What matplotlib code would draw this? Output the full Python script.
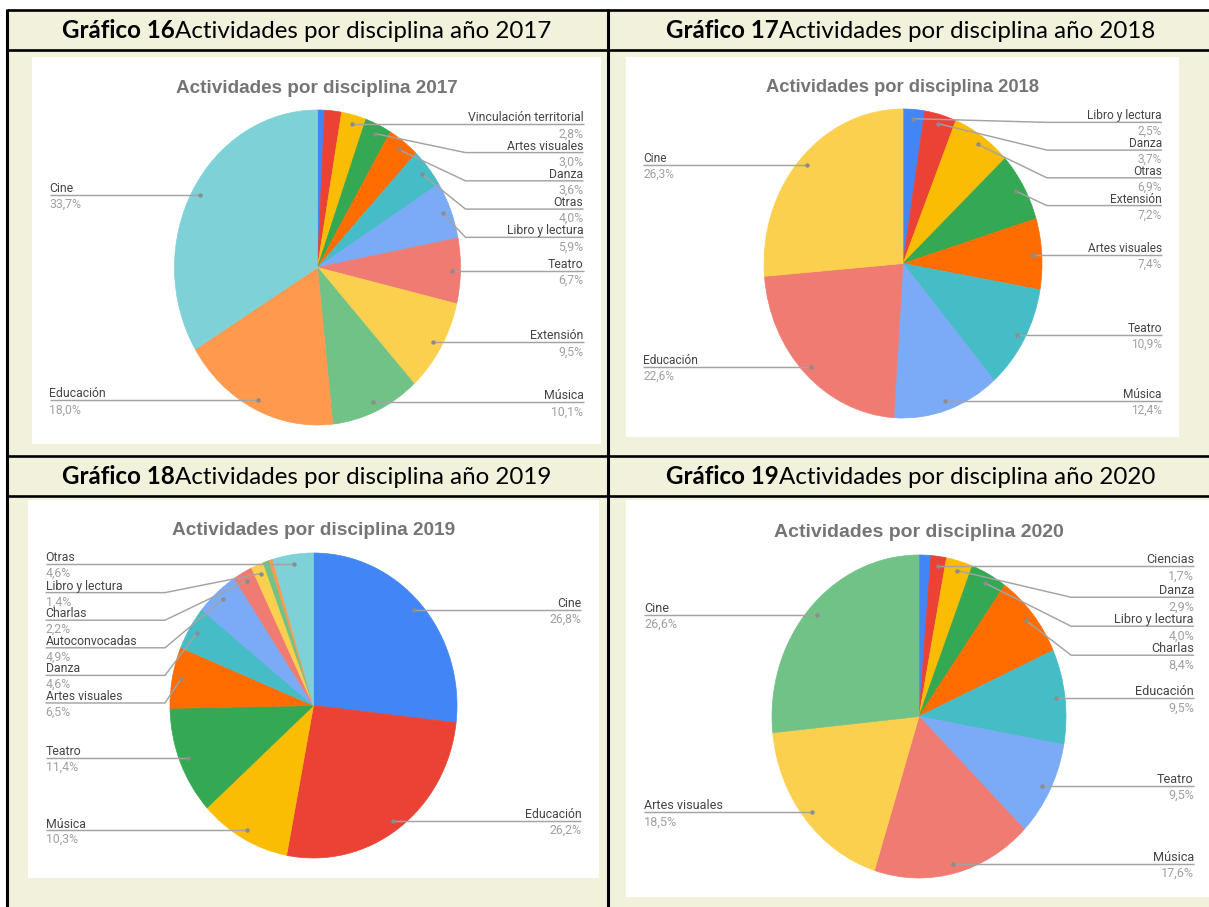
import matplotlib
matplotlib.use('Agg')
import matplotlib.pyplot as plt
import numpy as np

# ---------------- data ----------------
years = [2017, 2018, 2019, 2020]
figure_numbers = [16, 17, 18, 19]

labels_2017 = [None, None, 'Vinculación territorial', 'Artes visuales', 'Danza', 'Otras',
               'Libro y lectura', 'Teatro', 'Extensión', 'Música', 'Educación', 'Cine']
values_2017 = [0.8, 1.9, 2.8, 3.0, 3.6, 4.0, 5.9, 6.7, 9.5, 10.1, 18.0, 33.7]

labels_2018 = ['Libro y lectura', 'Danza', 'Otras', 'Extensión', 'Artes visuales',
               'Teatro', 'Música', 'Educación', 'Cine']
values_2018 = [2.5, 3.7, 6.9, 7.2, 7.4, 10.9, 12.4, 22.6, 26.3]

labels_2019 = ['Cine', 'Educación', 'Música', 'Teatro', 'Artes visuales', 'Danza',
               'Autoconvocadas', 'Charlas', 'Libro y lectura', None, None, 'Otras']
values_2019 = [26.8, 26.2, 10.3, 11.4, 6.5, 4.6, 4.9, 2.2, 1.4, 0.7, 0.4, 4.6]

labels_2020 = [None, 'Ciencias', 'Danza', 'Libro y lectura', 'Charlas', 'Educación',
               'Teatro', 'Música', 'Artes visuales', 'Cine']
values_2020 = [1.3, 1.7, 2.9, 4.0, 8.4, 9.5, 9.5, 17.6, 18.5, 26.6]

all_labels = [labels_2017, labels_2018, labels_2019, labels_2020]
all_values = [values_2017, values_2018, values_2019, values_2020]

# ---------------- styles ----------------
PALETTE = ['#4285F4', '#EA4335', '#FBBC04', '#34A853', '#FF6D01', '#46BDC6',
           '#7BAAF7', '#F07B72', '#FCD04F', '#71C287', '#FF994D', '#7ED1D7']
CREAM = '#F2F1DC'
LINE_GRAY = '#A3A3A3'
DOT_GRAY = '#8C8C8C'
NAME_COL = '#444444'
PCT_COL = '#A0A0A0'
TITLE_COL = '#757575'
LABEL_FONT = ['Roboto', 'DejaVu Sans']
TITLE_FONT = ['Liberation Sans', 'DejaVu Sans']
HEAD_FONT = ['Lato', 'DejaVu Sans']

W, H = 1209, 907
fig = plt.figure(figsize=(W / 100, H / 100), dpi=100)
fig.patch.set_facecolor('white')


def px_rect(x0, y0, x1, y1):
    return [x0 / W, 1 - y1 / H, (x1 - x0) / W, (y1 - y0) / H]


bg = fig.add_axes([0, 0, 1, 1], zorder=0)
bg.set_xlim(0, W); bg.set_ylim(H, 0); bg.axis('off')
fg = fig.add_axes([0, 0, 1, 1], zorder=5)
fg.set_xlim(0, W); fg.set_ylim(H, 0); fg.axis('off')

# ---------------- table ----------------
TL, TT, TR, TB = 7, 10, 1214, 907
XMID = 608
bg.add_patch(plt.Rectangle((TL, TT), TR - TL, TB - TT, facecolor=CREAM, edgecolor='none'))
for yy in (10, 50, 456, 496):
    bg.plot([TL, W + 5], [yy, yy], color='black', lw=1.9, solid_capstyle='butt')
bg.plot([TL, TL], [TT - 1, H + 5], color='black', lw=2.2, solid_capstyle='butt')
bg.plot([XMID, XMID], [TT - 1, H + 5], color='black', lw=2.2, solid_capstyle='butt')

# ---------------- layout per chart ----------------
layouts = [
    dict(panel=(32, 57, 601, 444), pie=(317.5, 267.5, 143, 157.5), head=(307, 38.5)),
    dict(panel=(626, 57, 1179, 437), pie=(903, 263.5, 139, 154.5), head=(911, 38.5)),
    dict(panel=(28, 500, 599, 878), pie=(313.5, 705.5, 143.5, 152.5), head=(307, 484)),
    dict(panel=(626, 500, 1212, 897), pie=(919, 716.5, 147, 161.5), head=(911, 484)),
]

renderer = fig.canvas.get_renderer()


def draw_header(cx, base_y, bold_txt, rest_txt, target_w=491):
    fs = 15
    t1 = bg.text(0, base_y, bold_txt, fontsize=fs, fontweight='bold', family=HEAD_FONT,
                 va='baseline', ha='left', color='black')
    t2 = bg.text(0, base_y, rest_txt, fontsize=fs, family=HEAD_FONT,
                 va='baseline', ha='left', color='black')
    w = t1.get_window_extent(renderer).width + t2.get_window_extent(renderer).width
    fs = fs * target_w / w
    t1.set_fontsize(fs); t2.set_fontsize(fs)
    w1 = t1.get_window_extent(renderer).width
    w2 = t2.get_window_extent(renderer).width
    x0 = cx - (w1 + w2) / 2
    t1.set_x(x0); t2.set_x(x0 + w1)


for i, (year, num, labs, vals, lay) in enumerate(zip(years, figure_numbers, all_labels,
                                                      all_values, layouts)):
    px0, py0, px1, py1 = lay['panel']
    pw, ph = px1 - px0, py1 - py0
    s = pw / 569.0
    sh = ph / 386.0
    # white chart panel
    bg.add_patch(plt.Rectangle((px0, py0), pw, ph, facecolor='white', edgecolor='none'))
    # header
    hx, hy = lay['head']
    draw_header(hx, hy, f'Gráfico {num}', f'Actividades por disciplina año {year}')
    # chart title
    bg.text((px0 + px1) / 2, py0 + 36 * sh, f'Actividades por disciplina {year}',
            fontsize=13.6 * s, fontweight='bold', family=TITLE_FONT, color=TITLE_COL,
            ha='center', va='baseline')
    # pie
    cx, cy, rx, ry = lay['pie']
    ax = fig.add_axes(px_rect(cx - rx, cy - ry, cx + rx, cy + ry), zorder=2)
    cols = PALETTE[:len(vals)]
    wedges, _ = ax.pie(vals, colors=cols, startangle=90, counterclock=False, radius=1,
                       wedgeprops=dict(linewidth=0.5))
    for wdg in wedges:
        wdg.set_edgecolor(wdg.get_facecolor())
    ax.set_aspect('auto'); ax.set_xlim(-1, 1); ax.set_ylim(-1, 1); ax.axis('off')
    fig.canvas.draw()

    total = float(sum(vals))
    items = []
    for wdg, name, v in zip(wedges, labs, vals):
        if name is None:
            continue
        ang = np.deg2rad((wdg.theta1 + wdg.theta2) / 2)
        k = 0.94
        dx_, dy_ = ax.transData.transform((k * np.cos(ang), k * np.sin(ang)))
        dot_x, dot_y = dx_, H - dy_
        side = 'right' if np.cos(ang) > 0 else 'left'
        pct = f'{100 * v / total:.1f}%'.replace('.', ',')
        items.append(dict(side=side, x=dot_x, y=dot_y, name=name, pct=pct))

    spacing = 0.073 * ph
    ymin = py0 + 0.172 * ph
    for side in ('right', 'left'):
        its = sorted([it for it in items if it['side'] == side], key=lambda d: d['y'])
        prev = -1e9
        for it in its:
            ly = max(it['y'], ymin, prev + spacing)
            it['ly'] = ly
            prev = ly

    for it in items:
        if it['side'] == 'right':
            tx = px1 - 17.5 * s
            knee = cx + rx + 5 * s
            ha = 'right'
        else:
            tx = px0 + 17.5 * s
            knee = cx - rx - 5 * s
            ha = 'left'
        ly = it['ly']
        if abs(ly - it['y']) < 2.5:
            ly = it['y']
            xs, ys = [tx, it['x']], [ly, ly]
        else:
            xs, ys = [tx, knee, it['x']], [ly, ly, it['y']]
        fg.plot(xs, ys, color=LINE_GRAY, lw=1.05, solid_capstyle='butt', zorder=3)
        fg.plot([it['x']], [it['y']], marker='o', ms=3.2, color=DOT_GRAY, mec='none', zorder=4)
        fg.text(tx, ly - 3 * sh, it['name'], fontsize=8.8 * s, family=LABEL_FONT,
                color=NAME_COL, ha=ha, va='baseline', zorder=5)
        fg.text(tx, ly + 13 * sh, it['pct'], fontsize=8.8 * s, family=LABEL_FONT,
                color=PCT_COL, ha=ha, va='baseline', zorder=5)

fig.savefig('out.png', dpi=100, facecolor='white')
